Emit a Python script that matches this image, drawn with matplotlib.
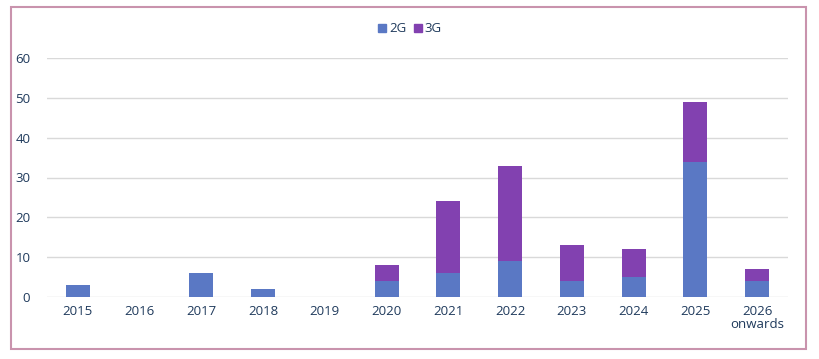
import matplotlib
matplotlib.use("Agg")
import matplotlib.pyplot as plt
from matplotlib.patches import Rectangle, Patch

categories = ["2015", "2016", "2017", "2018", "2019", "2020", "2021", "2022",
              "2023", "2024", "2025", "2026\nonwards"]
g2 = [3, 0, 6, 2, 0, 4, 6, 9, 4, 5, 34, 4]
g3 = [0, 0, 0, 0, 0, 4, 18, 24, 9, 7, 15, 3]
yticks = [0, 10, 20, 30, 40, 50, 60]

c2 = "#5a78c4"
c3 = "#8241b0"
tc = "#1f3a5c"

plt.rcParams['font.family'] = ['Open Sans', 'DejaVu Sans']

W, H = 820, 359
fig = plt.figure(figsize=(W/100, H/100), dpi=100)
ax = fig.add_axes([47/W, (H-297)/H, (788-47)/W, (297-58)/H])

x = list(range(len(categories)))
ax.bar(x, g2, width=0.39, color=c2, zorder=3)
ax.bar(x, g3, width=0.39, bottom=g2, color=c3, zorder=3)

ax.set_xlim(-0.5, len(categories)-0.5)
ax.set_ylim(0, 60)
ax.set_yticks(yticks)
ax.set_xticks(x)
ax.set_xticklabels(categories, fontsize=9.5, color=tc, linespacing=1.0)
ax.set_yticklabels([str(v) for v in yticks], fontsize=9.5, color=tc)
ax.tick_params(axis='both', length=0)
ax.tick_params(axis='y', pad=12)
ax.tick_params(axis='x', pad=6)
ax.grid(axis='y', color='#d9d9d9', linewidth=1, zorder=0)
for s in ax.spines.values():
    s.set_visible(False)

handles = [Patch(color=c2, label='2G'), Patch(color=c3, label='3G')]
leg = fig.legend(handles=handles, loc='center', bbox_to_anchor=(410/W, 1-29/H),
                 ncol=2, frameon=False, fontsize=9.5, handlelength=0.6,
                 handleheight=0.6, handletextpad=0.2, columnspacing=0.6)
for t in leg.get_texts():
    t.set_color(tc)

fig.patches.append(Rectangle((11/W, 1-349/H), (806-11)/W, (349-7)/H,
                             transform=fig.transFigure, fill=False,
                             edgecolor='#c993ad', linewidth=1.5))

fig.savefig("out.png", dpi=100)
